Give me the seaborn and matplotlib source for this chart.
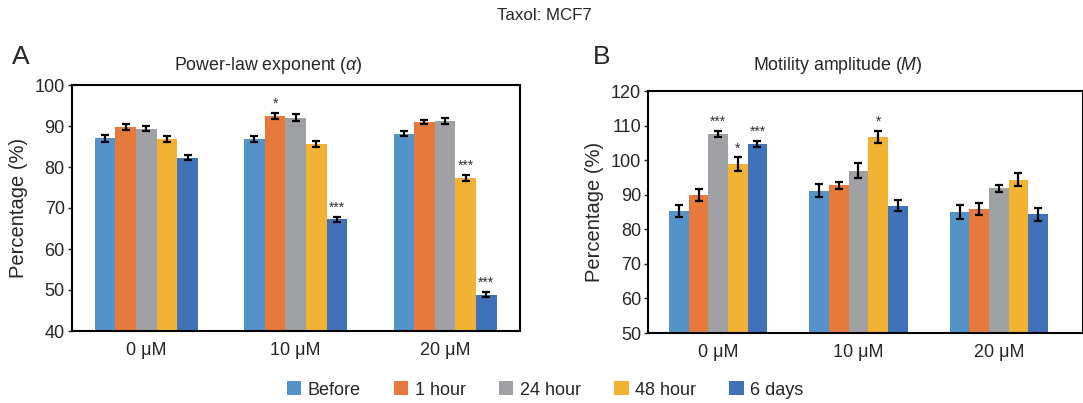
import numpy as np
import pandas as pd
import matplotlib
matplotlib.use("Agg")
import matplotlib.pyplot as plt
import seaborn as sns
from matplotlib.patches import Patch

# Datos
conc = ["0 μM", "10 μM", "20 μM"]
tiempos = ["Before", "1 hour", "24 hour", "48 hour", "6 days"]
colores = ["#5393C9", "#E57A3C", "#A0A1A4", "#F2B233", "#3F72B9"]

# Panel A: exponente power-law (media, error)
alfa_media = {
    "Before": [87.0, 86.8, 88.1],
    "1 hour": [89.8, 92.4, 90.9],
    "24 hour": [89.3, 92.0, 91.3],
    "48 hour": [86.8, 85.7, 77.3],
    "6 days": [82.3, 67.2, 48.8],
}
alfa_err = {
    "Before": [0.8, 0.8, 0.6],
    "1 hour": [0.8, 0.7, 0.5],
    "24 hour": [0.6, 0.9, 0.7],
    "48 hour": [0.7, 0.7, 0.7],
    "6 days": [0.6, 0.6, 0.6],
}
alfa_sig = {("1 hour", 1): "*", ("6 days", 1): "***", ("48 hour", 2): "***", ("6 days", 2): "***"}

# Panel B: amplitud de motilidad
m_media = {
    "Before": [85.2, 91.2, 85.0],
    "1 hour": [89.9, 92.7, 85.9],
    "24 hour": [107.5, 97.0, 91.8],
    "48 hour": [98.9, 106.7, 94.4],
    "6 days": [104.6, 86.8, 84.3],
}
m_err = {
    "Before": [1.7, 1.9, 2.0],
    "1 hour": [1.8, 1.0, 1.8],
    "24 hour": [0.9, 2.2, 1.0],
    "48 hour": [1.9, 1.7, 2.0],
    "6 days": [0.9, 1.6, 1.8],
}
m_sig = {("24 hour", 0): "***", ("48 hour", 0): "*", ("6 days", 0): "***", ("48 hour", 1): "*"}

sns.set_style("white")
plt.rcParams["font.family"] = ["Liberation Sans", "DejaVu Sans"]
plt.rcParams["mathtext.fontset"] = "custom"
plt.rcParams["mathtext.it"] = "Liberation Sans:italic"
plt.rcParams["mathtext.rm"] = "Liberation Sans"


def a_tabla(media, err):
    filas = []
    for t in tiempos:
        for i, c in enumerate(conc):
            filas.append({"Conc": c, "Tiempo": t, "Valor": media[t][i], "Err": err[t][i]})
    return pd.DataFrame(filas)


def panel(ax, df, sig, ylim, yticks, ancho):
    sns.barplot(data=df, x="Conc", y="Valor", hue="Tiempo", hue_order=tiempos,
                order=conc, palette=colores, width=ancho, errorbar=None,
                saturation=1, legend=False, ax=ax, linewidth=0)
    # barras de error desde las posiciones de los parches
    for k, t in enumerate(tiempos):
        cont = ax.containers[k]
        for i, p in enumerate(cont.patches):
            xc = p.get_x() + p.get_width() / 2
            v = df[(df.Tiempo == t) & (df.Conc == conc[i])]
            y, e = v.Valor.iloc[0], v.Err.iloc[0]
            ax.errorbar(xc, y, yerr=e, color="black", capsize=3, elinewidth=1.6,
                        capthick=1.6, fmt="none")
            if (t, i) in sig:
                ax.text(xc, y + e + 0.6, sig[(t, i)], ha="center", va="bottom",
                        fontsize=10, color="#333333")
    ax.set_ylim(*ylim)
    ax.set_yticks(yticks)
    ax.set_xlabel("")
    ax.set_ylabel("Percentage (%)", fontsize=14.5, labelpad=5)
    ax.tick_params(axis="y", labelsize=13, length=3, width=1, direction="out", pad=2, left=True)
    ax.tick_params(axis="x", labelsize=13, length=0, pad=8)
    for s in ax.spines.values():
        s.set_color("black")
        s.set_linewidth(1.5)


W, H = 1083, 403
fig = plt.figure(figsize=(W / 100, H / 100), dpi=100)

axA = fig.add_axes([71.7 / W, (H - 331) / H, 448 / W, (331 - 85) / H])
panel(axA, a_tabla(alfa_media, alfa_err), alfa_sig, (40, 100), range(40, 101, 10), 0.69)
axA.set_xlim(-0.5, 2.5)

axB = fig.add_axes([648 / W, (H - 333) / H, (W - 648) / W, (333 - 91) / H])
panel(axB, a_tabla(m_media, m_err), m_sig, (50, 120), range(50, 121, 10), 0.70)
axB.set_xlim(-0.5, 2.6)

fig.text(544 / W, 1 - 16 / H, "Taxol: MCF7", ha="center", va="center", fontsize=12.2)
fig.text(268 / W, 1 - 65 / H, r"Power-law exponent ($\alpha$)", ha="center", va="center", fontsize=12.8)
fig.text(838 / W, 1 - 66 / H, r"Motility amplitude ($M$)", ha="center", va="center", fontsize=12.8)
fig.text(12 / W, 1 - 57 / H, "A", ha="left", va="center", fontsize=19)
fig.text(593 / W, 1 - 57 / H, "B", ha="left", va="center", fontsize=19)

manejadores = [Patch(facecolor=c, edgecolor="none", label=t) for c, t in zip(colores, tiempos)]
fig.legend(handles=manejadores, loc="center", bbox_to_anchor=(545 / W, 1 - 390 / H), ncol=5,
           frameon=False, fontsize=13, handlelength=0.8, handleheight=0.8,
           handletextpad=0.35, columnspacing=1.85)

fig.savefig("out.png", dpi=100)
